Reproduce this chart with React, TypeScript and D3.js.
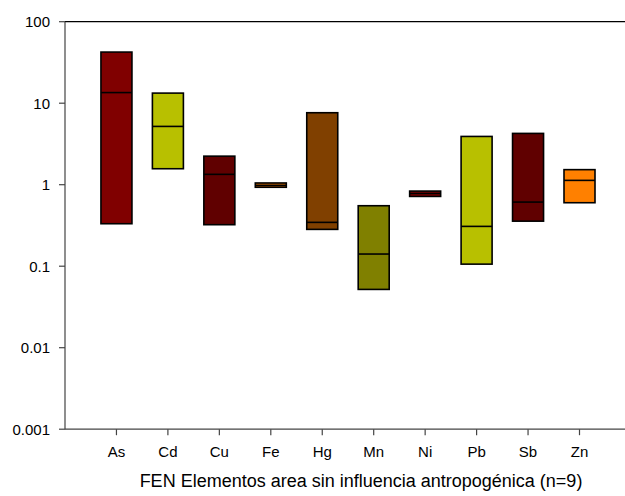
import React from "react";
import * as d3 from "d3";

const categories = ["As", "Cd", "Cu", "Fe", "Hg", "Mn", "Ni", "Pb", "Sb", "Zn"];
const q1Values = [0.332, 1.57, 0.323, 0.93, 0.283, 0.0519, 0.718, 0.106, 0.357, 0.601];
const medianValues = [13.5, 5.19, 1.34, 0.98, 0.345, 0.141, 0.78, 0.308, 0.612, 1.13];
const q3Values = [42.4, 13.3, 2.24, 1.05, 7.64, 0.552, 0.835, 3.91, 4.26, 1.53];
const fillColors = ["#800000", "#b8c000", "#600000", "#c06000", "#804000", "#808000", "#800000", "#b8c000", "#600000", "#ff8000"];
const yTickValues = [0.001, 0.01, 0.1, 1, 10, 100];
const yTickLabels = ["0.001", "0.01", "0.1", "1", "10", "100"];
const xTitle = "FEN Elementos area sin influencia antropogénica (n=9)";

export default function App() {
  const W = 625, H = 496;
  const left = 65, top = 21.7, bottom = 429.2;
  const step = 51.45;
  const x = d3.scaleLinear().domain([-1, 11]).range([left, left + 12 * step]);
  const y = d3.scaleLog().domain([0.001, 100]).range([bottom, top]);
  const bw = 31;
  const font = "'Liberation Sans', Arial, sans-serif";
  return (
    <svg width={W} height={H} style={{ position: "absolute", left: 0, top: 0 }} fontFamily={font}>
      <rect x={0} y={0} width={W} height={H} fill="#fff" />
      {categories.map((c, i) => {
        const cx = x(i);
        const yt = y(q3Values[i]);
        const yb = y(q1Values[i]);
        const ym = y(medianValues[i]);
        return (
          <g key={c}>
            <rect x={cx - bw / 2} y={yt} width={bw} height={yb - yt} fill={fillColors[i]} stroke="#000" strokeWidth={1.6} />
            <line x1={cx - bw / 2} x2={cx + bw / 2} y1={ym} y2={ym} stroke="#000" strokeWidth={1.6} />
          </g>
        );
      })}
      <line x1={left} x2={W} y1={top} y2={top} stroke="#000" strokeWidth={1.2} />
      <line x1={left} x2={left} y1={top} y2={bottom} stroke="#444" strokeWidth={1.2} />
      <line x1={left} x2={W} y1={bottom} y2={bottom} stroke="#444" strokeWidth={1.2} />
      {yTickValues.map((v, i) => (
        <g key={v}>
          <line x1={left - 6} x2={left} y1={y(v)} y2={y(v)} stroke="#444" strokeWidth={1.2} />
          <text x={50} y={y(v)} dy="0.36em" textAnchor="end" fontSize={15} fill="#000">{yTickLabels[i]}</text>
        </g>
      ))}
      {categories.map((c, i) => (
        <g key={c}>
          <line x1={x(i)} x2={x(i)} y1={bottom} y2={bottom + 6} stroke="#444" strokeWidth={1.2} />
          <text x={x(i)} y={457} textAnchor="middle" fontSize={15} fill="#000">{c}</text>
        </g>
      ))}
      <text x={361} y={487} textAnchor="middle" fontSize={18} fill="#000">{xTitle}</text>
    </svg>
  );
}
